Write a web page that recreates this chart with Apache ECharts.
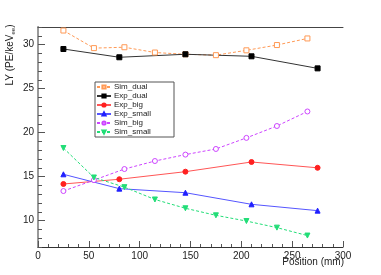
<!DOCTYPE html>
<html><head><meta charset="utf-8">
<script src="https://cdn.jsdelivr.net/npm/echarts@6/dist/echarts.min.js"></script>
<style>html,body{margin:0;padding:0;background:#fff}#c{width:381px;height:275px}</style>
</head><body><div id="c"></div>
<script>
const simX = [25, 55, 85, 115, 145, 175, 205, 235, 265];
const expX = [25, 80, 145, 210, 275];
const simDual = [31.6, 29.6, 29.7, 29.1, 28.9, 28.8, 29.35, 29.95, 30.7];
const expDual = [29.5, 28.56, 28.9, 28.67, 27.3];
const expBig = [14.16, 14.7, 15.56, 16.66, 16.0];
const expSmall = [15.26, 13.63, 13.17, 11.85, 11.13];
const simBig = [13.36, 14.6, 15.86, 16.77, 17.5, 18.14, 19.4, 20.75, 22.4];
const simSmall = [18.25, 14.9, 13.8, 12.4, 11.4, 10.6, 9.95, 9.2, 8.3];
const yTicks = [10, 15, 20, 25, 30];

const font = '"Liberation Sans", Arial, sans-serif';
const pair = (xs, ys) => xs.map((x, i) => [x, ys[i]]);

function mk(name, xs, ys, color, symbol, dashed, opts) {
  return Object.assign({
    name, type: 'line', data: pair(xs, ys), symbol, symbolSize: 5,
    itemStyle: { color: color, borderColor: color, borderWidth: 1 },
    lineStyle: { color: color, width: 1, type: dashed ? [3, 2] : 'solid' },
    emphasis: { disabled: true }, animation: false
  }, opts || {});
}

const chart = echarts.init(document.getElementById('c'), null, { renderer: 'canvas' });
chart.setOption({
  animation: false,
  grid: { left: 38, right: 38, top: 27, bottom: 28 },
  legend: {
    orient: 'vertical', left: 95, top: 82,
    backgroundColor: '#fff', borderColor: '#555', borderWidth: 1,
    padding: [1, 2, 1, 1], itemGap: 1, itemWidth: 14, itemHeight: 4,
    textStyle: { fontSize: 8, lineHeight: 8, width: 58, fontFamily: font, color: '#222', padding: [0, 0, 0, -2] },
    data: ['Sim_dual', 'Exp_dual', 'Exp_big', 'Exp_small', 'Sim_big', 'Sim_small']
  },
  xAxis: [{
    type: 'value', min: 0, max: 300, interval: 50,
    axisLine: { lineStyle: { color: '#333', width: 1 } },
    axisTick: { inside: true, length: 6, lineStyle: { color: '#555' } },
    minorTick: { show: true, splitNumber: 5, length: 3, lineStyle: { color: '#555' } },
    splitLine: { show: false },
    axisLabel: { fontSize: 10, fontFamily: font, color: '#222', margin: 4 }
  }, {
    type: 'value', min: 0, max: 300, position: 'top',
    axisLine: { show: true, lineStyle: { color: '#444', width: 1 } },
    axisTick: { show: false }, axisLabel: { show: false }, splitLine: { show: false }
  }],
  yAxis: [{
    type: 'value', min: 7, max: 32, interval: 1,
    axisLine: { show: true, lineStyle: { color: '#333', width: 1 } },
    axisTick: { inside: true, length: 7, customValues: yTicks, lineStyle: { color: '#555' } },
    splitLine: { show: false },
    axisLabel: { fontSize: 10, fontFamily: font, color: '#222', margin: 4, customValues: yTicks }
  }, {
    type: 'value', min: 7, max: 32, position: 'right',
    axisLine: { show: true, lineStyle: { color: '#999', width: 2 } },
    axisTick: { show: false }, axisLabel: { show: false }, splitLine: { show: false }
  }, {
    type: 'value', min: 7, max: 32, interval: 1, position: 'left', offset: 0,
    axisLine: { show: false },
    axisTick: { show: true, inside: true, length: 4, lineStyle: { color: '#555' } },
    axisLabel: { show: false }, splitLine: { show: false }
  }],
  graphic: [{
    type: 'text', x: 10, y: 55, rotation: Math.PI / 2,
    style: {
      text: 'LY (PE/keV{s|ee})', fontSize: 10, fontFamily: font, fill: '#222',
      align: 'center', verticalAlign: 'middle',
      rich: { s: { fontSize: 6, fontFamily: font, fill: '#222', verticalAlign: 'bottom', lineHeight: 12, padding: [4, 0, 0, 0] } }
    }
  }, {
    type: 'text', x: 344, y: 262,
    style: { text: 'Position (mm)', fontSize: 10, fontFamily: font, fill: '#222', align: 'right', verticalAlign: 'middle' }
  }],
  series: [
    mk('Sim_dual', simX, simDual, '#ff9955', 'rect', true, { itemStyle: { color: '#fff', borderColor: '#ff9955', borderWidth: 1 } }),
    mk('Exp_dual', expX, expDual, '#000000', 'rect', false, { lineStyle: { color: '#333', width: 1 } }),
    mk('Exp_big', expX, expBig, '#ff2020', 'circle', false, { lineStyle: { color: '#ff5555', width: 1 } }),
    mk('Exp_small', expX, expSmall, '#2020ff', 'triangle', false, { lineStyle: { color: '#5555ff', width: 1 } }),
    mk('Sim_big', simX, simBig, '#cc44ff', 'circle', true, { itemStyle: { color: '#fff', borderColor: '#cc44ff', borderWidth: 1 } }),
    mk('Sim_small', simX, simSmall, '#22dd77', 'triangle', true, { symbolRotate: 180 })
  ]
});
</script></body></html>
